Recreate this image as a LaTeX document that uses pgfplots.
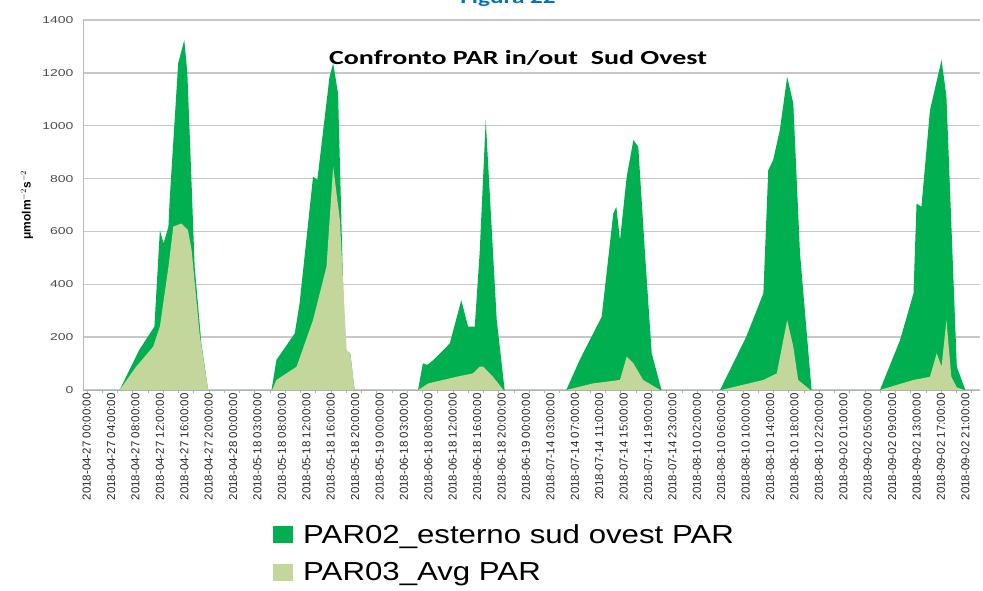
\documentclass[border=0pt]{standalone}
\usepackage{graphicx}
\usepackage{fontspec}
\setmainfont{Liberation Sans}
\newfontfamily\calibri{Carlito}
\usepackage{pgfplots}
\pgfplotsset{compat=1.18}
\definecolor{darkg}{RGB}{0,176,80}
\definecolor{lightg}{RGB}{195,214,155}
\definecolor{gridc}{RGB}{200,200,200}
\definecolor{figblue}{RGB}{0,112,192}
\begin{document}
\begin{tikzpicture}[x=1pt,y=1pt]
\begin{axis}[
  at={(0pt,0pt)}, anchor=south west,
  width=897pt, height=370pt, scale only axis,
  xmin=-0.6, xmax=146.4, ymin=0, ymax=1400,
  axis lines*=left,
  axis line style={draw=gray!55, line width=0.8pt},
  ymajorgrids, grid style={draw=gridc, line width=1.3pt},
  ytick={0,200,...,1400},
  xtick={0,4,...,144},
  xticklabels={
    2018-04-27 00:00:00,2018-04-27 04:00:00,2018-04-27 08:00:00,2018-04-27 12:00:00,2018-04-27 16:00:00,2018-04-27 20:00:00,2018-04-28 00:00:00,
    2018-05-18 03:00:00,2018-05-18 08:00:00,2018-05-18 12:00:00,2018-05-18 16:00:00,2018-05-18 20:00:00,2018-05-19 00:00:00,
    2018-06-18 03:00:00,2018-06-18 08:00:00,2018-06-18 12:00:00,2018-06-18 16:00:00,2018-06-18 20:00:00,2018-06-19 00:00:00,
    2018-07-14 03:00:00,2018-07-14 07:00:00,2018-07-14 11:00:00,2018-07-14 15:00:00,2018-07-14 19:00:00,2018-07-14 23:00:00,
    2018-08-10 02:00:00,2018-08-10 06:00:00,2018-08-10 10:00:00,2018-08-10 14:00:00,2018-08-10 18:00:00,2018-08-10 22:00:00,
    2018-09-02 01:00:00,2018-09-02 05:00:00,2018-09-02 09:00:00,2018-09-02 13:00:00,2018-09-02 17:00:00,2018-09-02 21:00:00},
  minor xtick={0,2.5,...,146},
  major tick length=0pt, minor tick length=3pt,
  tick align=outside,
  minor tick style={draw=gray!60},
  xticklabel style={rotate=90, anchor=east, font=\fontsize{11.5}{11.5}\selectfont, text=black!85},
  yticklabel={\scalebox{1.4}[1]{\pgfmathprintnumber{\tick}}},
  yticklabel style={font=\fontsize{10}{10}\selectfont, text=black!70, xshift=-6pt},
  /pgf/number format/assume math mode=true,
  /pgf/number format/1000 sep={},
  legend cell align=left,
  legend image code/.code={\fill[#1] (0pt,-8.5pt) rectangle (20pt,8.5pt); \path (28pt,0pt);},
  legend style={at={(0.2085,-0.352)}, anchor=north west, draw=none, fill=none,
    font=\fontsize{26}{28}\selectfont, row sep=14pt},
]
\addplot[fill=darkg, draw=none] coordinates {
 (-0.6,0) (5.4,0) (8.6,151) (11.1,240) (12.0,605) (12.6,555) (13.4,618) (13.6,719) (15,1236) (16,1324) (16.5,1200) (17,900) (17.7,466) (18.8,176) (19.9,0)
 (30.3,0) (31.1,114) (34.1,214) (34.9,329) (37.1,807) (37.8,795) (39.8,1185) (40.4,1236) (41.2,1122) (42.3,151) (43.2,139) (43.9,0)
 (54.3,0) (55.1,101) (55.8,95) (56.8,113) (59.5,176) (61.4,340) (62.5,240) (63.6,240) (64.4,517) (65.4,1021) (66.3,643) (67.2,265) (68.5,0)
 (78.6,0) (80.8,114) (84.4,277) (86.3,668) (86.8,693) (87.4,567) (88.5,807) (89.6,946) (90.4,920) (91.5,517) (92.6,139) (94.2,0)
 (103.8,0) (108.1,202) (110.9,366) (111.7,832) (112.5,870) (113.6,984) (114.8,1185) (115.8,1085) (116.9,517) (118.8,0)
 (130,0) (133.3,189) (135.5,366) (136,706) (136.8,693) (138.2,1059) (140.1,1249) (140.9,1110) (142.6,88) (144,0) (146.4,0)
} \closedcycle;
\addlegendentry{\scalebox{1.2}[1]{PAR02\_esterno sud ovest PAR}}
\addplot[fill=lightg, draw=none] coordinates {
 (-0.6,0) (5.4,0) (8.1,88) (10.9,164) (12,240) (13.4,466) (14.2,618) (15.5,630) (16.6,605) (17.2,530) (18.5,214) (19.9,0)
 (30.4,0) (31.1,38) (34.4,88) (37.1,265) (39.3,466) (40.4,845) (41.5,643) (42.6,151) (43.2,139) (43.9,0)
 (54.3,0) (56,25) (60.6,50) (63.3,63) (64.4,88) (65,88) (66.6,50) (68.3,0)
 (78.6,0) (83,25) (87.4,38) (88.5,126) (89.6,101) (91.2,38) (94,0)
 (104,0) (110.9,38) (113.1,63) (114.8,265) (115.8,164) (116.6,38) (118.6,0)
 (130,0) (135.5,38) (138.2,50) (139.3,139) (140.1,88) (140.9,265) (141.7,50) (142.6,10) (143.8,0) (146.4,0)
} \closedcycle;
\addlegendentry{\scalebox{1.2}[1]{PAR03\_Avg PAR}}
\end{axis}
\node[anchor=base, font=\calibri\bfseries\fontsize{20}{20}\selectfont] at (435,325) {\scalebox{1.4}[1]{Confronto PAR in/out\ \ Sud Ovest}};
\node[rotate=90, font=\bfseries\fontsize{12}{12}\selectfont] at (-56,185) {μmolm$^{-2}$s$^{-2}$};
\node[anchor=base, text=figblue, font=\calibri\bfseries\fontsize{18}{18}\selectfont] at (425,386) {\scalebox{1.4}[1]{Figura 22}};
\pgfresetboundingbox
\useasboundingbox (-83,-200) rectangle (900,390);
\end{tikzpicture}
\end{document}
